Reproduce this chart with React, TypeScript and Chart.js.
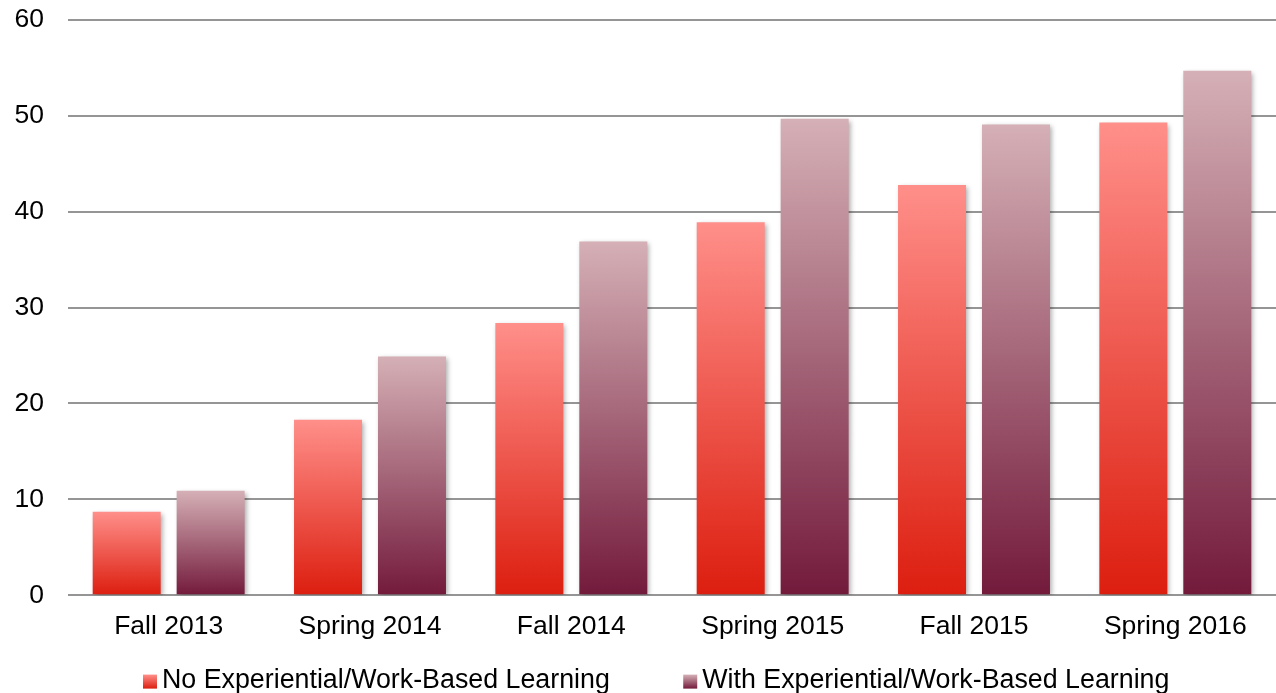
import React, { useEffect, useRef } from "react";
import { Chart, registerables } from "chart.js";

Chart.register(...registerables);

const categories = ["Fall 2013", "Spring 2014", "Fall 2014", "Spring 2015", "Fall 2015", "Spring 2016"];
const noExperiential = [8.7, 18.3, 28.4, 38.9, 42.8, 49.3];
const withExperiential = [10.9, 24.9, 36.9, 49.7, 49.1, 54.7];
const seriesNames = ["No Experiential/Work-Based Learning", "With Experiential/Work-Based Learning"];
const yTicks = [0, 10, 20, 30, 40, 50, 60];

const RED_TOP = "#ff8f8a";
const RED_BOTTOM = "#dc1e0f";
const PUR_TOP = "#d5b0b6";
const PUR_BOTTOM = "#731a3b";

const FONT = "'Liberation Sans', Arial, sans-serif";
const TICK_SIZE = 26.5;
const LEGEND_SIZE = 26.8;
const LEGEND_BOX_W = 42;

function gradientFill(top: string, bottom: string) {
  return (ctx: any) => {
    const chart = ctx.chart;
    const y = chart.scales && chart.scales.y;
    if (!y || ctx.type !== "data" || !ctx.parsed) return bottom;
    const yTop = y.getPixelForValue(ctx.parsed.y);
    const yBase = y.getPixelForValue(0);
    if (!isFinite(yTop) || !isFinite(yBase) || yTop === yBase) return bottom;
    const g = chart.ctx.createLinearGradient(0, yTop, 0, yBase);
    g.addColorStop(0, top);
    g.addColorStop(1, bottom);
    return g;
  };
}

const barShadow = {
  id: "barShadow",
  beforeDatasetDraw(chart: any) {
    const c = chart.ctx;
    c.save();
    c.shadowColor = "rgba(0,0,0,0.35)";
    c.shadowBlur = 5;
    c.shadowOffsetX = 2;
    c.shadowOffsetY = 2;
  },
  afterDatasetDraw(chart: any) {
    chart.ctx.restore();
  },
};

const legendShift = {
  id: "legendShift",
  afterLayout(chart: any) {
    const lg = chart.legend;
    if (!lg) return;
    lg.top -= 13;
    lg.bottom -= 13;
  },
};

const legendBoxes = {
  id: "legendBoxes",
  afterDraw(chart: any) {
    const lg = chart.legend;
    if (!lg || !lg.legendHitBoxes) return;
    const c = chart.ctx;
    const colors = [
      [RED_TOP, RED_BOTTOM],
      [PUR_TOP, PUR_BOTTOM],
    ];
    lg.legendHitBoxes.forEach((hb: any, i: number) => {
      const size = 14;
      const x = hb.left + LEGEND_BOX_W + LEGEND_SIZE / 2 - 19;
      const y = hb.top + (hb.height - size) / 2 + 1;
      const g = c.createLinearGradient(0, y, 0, y + size);
      g.addColorStop(0, colors[i][0]);
      g.addColorStop(1, colors[i][1]);
      c.save();
      c.fillStyle = g;
      c.fillRect(x, y, size, size);
      c.restore();
    });
  },
};

export default function App() {
  const ref = useRef<HTMLCanvasElement | null>(null);
  useEffect(() => {
    if (!ref.current) return;
    const chart = new Chart(ref.current, {
      type: "bar",
      data: {
        labels: categories,
        datasets: [
          {
            label: seriesNames[0],
            data: noExperiential,
            backgroundColor: gradientFill(RED_TOP, RED_BOTTOM),
            borderWidth: 0,
            barPercentage: 0.81,
            categoryPercentage: 0.834,
          },
          {
            label: seriesNames[1],
            data: withExperiential,
            backgroundColor: gradientFill(PUR_TOP, PUR_BOTTOM),
            borderWidth: 0,
            barPercentage: 0.81,
            categoryPercentage: 0.834,
          },
        ],
      },
      options: {
        responsive: false,
        animation: false,
        layout: { padding: { left: 0, top: 20, right: 0, bottom: -24 } },
        plugins: {
          tooltip: { enabled: false },
          legend: {
            position: "bottom",
            labels: {
              color: "#000",
              font: { family: FONT, size: LEGEND_SIZE },
              boxWidth: LEGEND_BOX_W,
              boxHeight: 15,
              padding: 37,
              generateLabels(chart: any) {
                return chart.data.datasets.map((ds: any, i: number) => ({
                  text: ds.label,
                  fillStyle: "rgba(0,0,0,0)",
                  strokeStyle: "rgba(0,0,0,0)",
                  lineWidth: 0,
                  hidden: false,
                  datasetIndex: i,
                  fontColor: "#000",
                }));
              },
            },
          },
        },
        scales: {
          x: {
            afterFit(scale: any) {
              scale.height = 48;
              scale.paddingLeft = 0;
              scale.paddingRight = 0;
            },
            grid: { display: false, drawTicks: false },
            border: { display: false },
            ticks: { color: "#000", font: { family: FONT, size: TICK_SIZE }, padding: 16, maxRotation: 0 },
          },
          y: {
            min: 0,
            max: 60,
            afterFit(scale: any) {
              scale.width = 68;
              scale.paddingTop = 0;
              scale.paddingBottom = 0;
            },
            afterBuildTicks(scale: any) {
              scale.ticks = yTicks.map((v) => ({ value: v }));
            },
            grid: { color: "#959595", lineWidth: 2, drawTicks: false },
            border: { display: false },
            ticks: { color: "#000", font: { family: FONT, size: TICK_SIZE }, padding: 24 },
          },
        },
      },
      plugins: [barShadow, legendShift, legendBoxes],
    });
    return () => chart.destroy();
  }, []);
  return (
    <div style={{ position: "absolute", left: 0, top: 0, width: 1276, height: 693, background: "#fff" }}>
      <canvas ref={ref} width={1276} height={693} />
    </div>
  );
}
